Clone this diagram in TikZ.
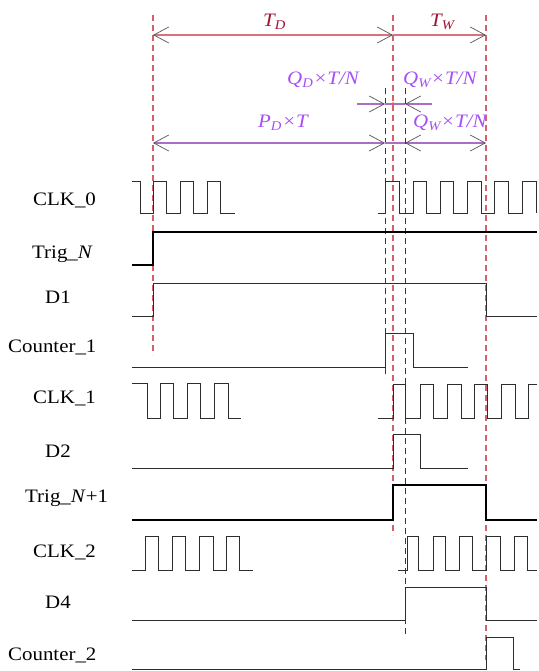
\documentclass[tikz,border=0pt]{standalone}
\usepackage{fontspec}
\setmainfont{Liberation Serif}[FakeStretch=1.1]
\usetikzlibrary{arrows.meta}
\definecolor{wave}{RGB}{45,45,45}
\definecolor{reddash}{RGB}{215,95,105}
\definecolor{bluedash}{RGB}{50,50,95}
\definecolor{tdcol}{RGB}{160,20,50}
\definecolor{purp}{RGB}{165,80,245}
\definecolor{tdline}{RGB}{215,115,125}
\definecolor{pline}{RGB}{170,110,195}
\definecolor{tipcol}{RGB}{85,85,85}
\begin{document}
\begin{tikzpicture}[x=1pt,y=-1pt,
  sig/.style={draw=wave,line width=0.9pt},
  heavysig/.style={draw=black,line width=2.8pt},
  rguide/.style={draw=reddash,line width=1.2pt,dash pattern=on 6pt off 4pt},
  bguide/.style={draw=bluedash,line width=1pt,dash pattern=on 6pt off 4pt},
  lbl/.style={anchor=base west,inner sep=0pt,font=\fontsize{19}{21}\selectfont},
  dimlbl/.style={anchor=base west,inner sep=0pt,text=purp,font=\fontsize{19}{21}\selectfont\itshape},
  tlbl/.style={anchor=base west,inner sep=0pt,text=tdcol,font=\fontsize{19}{21}\selectfont\itshape},
  dimline/.style={line width=1.3pt,>={Straight Barb[length=15pt,width=16pt,line width=0.7pt,color=tipcol]}},
]
\useasboundingbox (0,0) rectangle (538,671);

% guide lines
\coordinate (r1t) at (153,15); \coordinate (r1b) at (153,355);
\coordinate (r2t) at (393,15); \coordinate (r2b) at (393,535);
\coordinate (r3t) at (486,15); \coordinate (r3b) at (486,660);
\coordinate (b1t) at (385,88); \coordinate (b1b) at (385,378);
\coordinate (b2t) at (405,88); \coordinate (b2b) at (405,635);
\draw[rguide] (r1t) -- (r1b);
\draw[rguide] (r2t) -- (r2b);
\draw[rguide] (r3t) -- (r3b);
\draw[bguide] (b1t) -- (b1b);
\draw[bguide] (b2t) -- (b2b);

% dimension arrows
\draw[dimline,draw=tdline,<->] (153,35) -- (393,35);
\draw[dimline,draw=tdline,->] (393,35) -- (486,35);
\draw[dimline,draw=pline,->] (357,104) -- (385,104);
\draw[dimline,draw=pline] (385,104) -- (405,104);
\draw[dimline,draw=pline,->] (432,104) -- (405,104);
\fill[reddash] (393,104) circle (1.8);
\draw[dimline,draw=pline,<->] (153,143) -- (385,143);
\draw[dimline,draw=pline] (385,143) -- (405,143);
\draw[dimline,draw=pline,<->] (405,143) -- (486,143);

% dimension labels
\node[tlbl] (td) at (263,27) {T\textsubscript{D}};
\node[tlbl] (tw) at (430,27) {T\textsubscript{W}};
\node[dimlbl] (qd) at (287,85) {Q\textsubscript{D}×T/N};
\node[dimlbl] (qw1) at (403,85) {Q\textsubscript{W}×T/N};
\node[dimlbl] (pd) at (258,128) {P\textsubscript{D}×T};
\node[dimlbl] (qw2) at (413,128) {Q\textsubscript{W}×T/N};

% signal labels
\node[lbl] (l0) at (33,205) {CLK\_0};
\node[lbl] (l1) at (32,258) {Trig\_\textit{N}};
\node[lbl] (l2) at (45,303) {D1};
\node[lbl] (l3) at (8,352) {Counter\_1};
\node[lbl] (l4) at (33,403) {CLK\_1};
\node[lbl] (l5) at (45,457) {D2};
\node[lbl] (l6) at (25,502) {Trig\_\textit{N}+1};
\node[lbl] (l7) at (33,557) {CLK\_2};
\node[lbl] (l8) at (45,608) {D4};
\node[lbl] (l9) at (8,660) {Counter\_2};

% waveforms
\draw[sig] (132,181) -| (140,213) -| (153,181) -| (166,213) -| (180,181) -| (193,213) -| (207,181) -| (220,213) -- (235,213);
\draw[sig] (378,213) -| (385,181) -| (399,213) -| (413,181) -| (426,213) -| (440,181) -| (453,213) -| (467,181) -| (481,213) -| (494,181) -| (508,213) -| (522,181) -| (536,213);
\draw[heavysig] (132,265) -| (153,232) -- (537,232);
\draw[sig] (132,316) -| (153,283) -| (486,316) -- (537,316);
\draw[sig] (132,367) -| (385,333) -| (413,367) -- (468,367);
\draw[sig] (132,383) -| (147,418) -| (160,383) -| (173,418) -| (187,383) -| (200,418) -| (214,383) -| (228,418) -- (241,418);
\draw[sig] (378,418) -| (393,384) -| (405,418) -| (420,384) -| (433,418) -| (447,384) -| (461,418) -| (474,384) -| (487,418) -| (501,384) -| (515,418) -| (528,384) -- (537,384);
\draw[sig] (132,468) -| (393,434) -| (420,468) -- (468,468);
\draw[heavysig] (132,520) -| (393,485) -| (486,520) -- (537,520);
\draw[sig] (132,570) -| (145,536) -| (158,570) -| (172,536) -| (185,570) -| (199,536) -| (213,570) -| (226,536) -| (239,570) -- (253,570);
\draw[sig] (398,570) -| (407,536) -| (418,570) -| (433,536) -| (445,570) -| (459,536) -| (472,570) -| (486,536) -| (500,570) -| (514,536) -| (527,570) -- (537,570);
\draw[sig] (132,620) -| (405,587) -| (486,620) -- (537,620);
\draw[sig] (132,669) -| (486,637) -| (513,669) -- (520,669);
\end{tikzpicture}
\end{document}
